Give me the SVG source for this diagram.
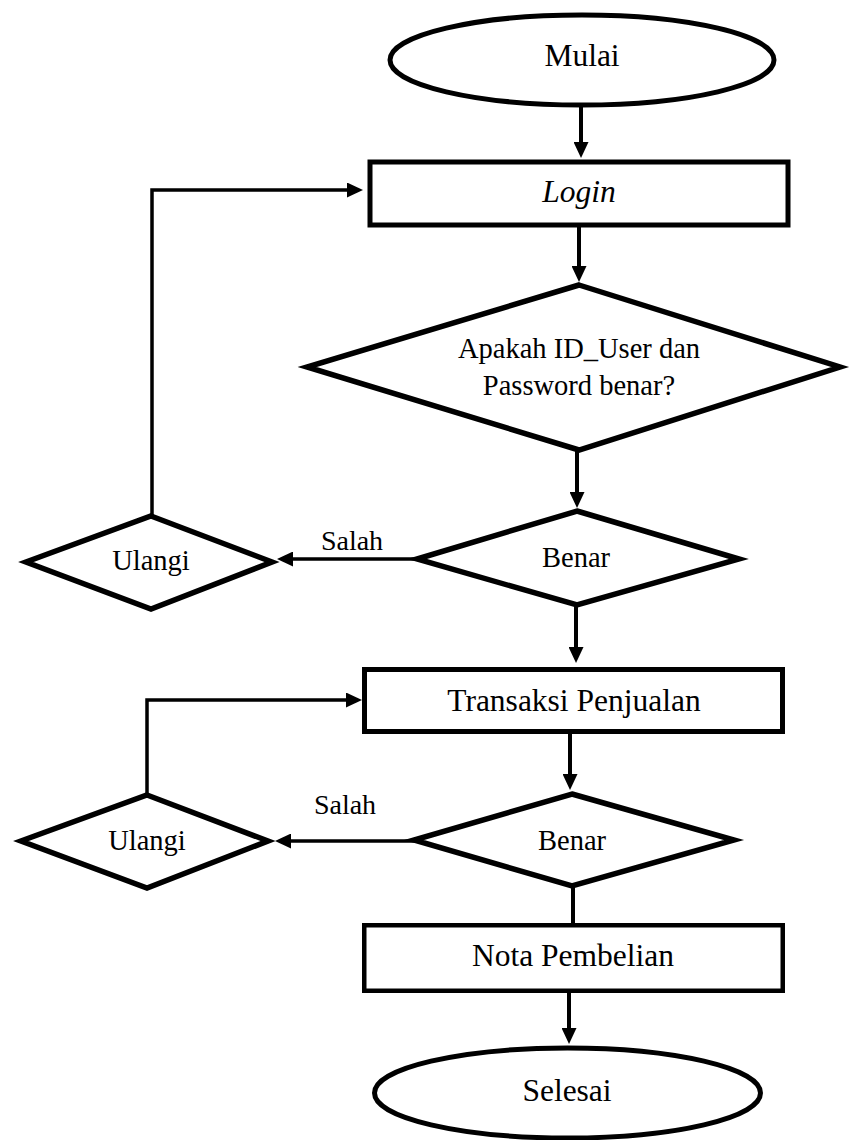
<svg xmlns="http://www.w3.org/2000/svg" width="853" height="1140" viewBox="0 0 853 1140">
<style>
.shape{fill:#fff;stroke:#000;stroke-width:5;stroke-linejoin:miter}
.dia{fill:#fff;stroke:#000;stroke-width:5.5;stroke-linejoin:miter}
.rect{fill:#fff;stroke:#000;stroke-width:4.5}
.conn{fill:none;stroke:#000;stroke-width:4}
.fb{fill:none;stroke:#000;stroke-width:3.5}
.t{font-family:"Liberation Serif","Times New Roman",serif;font-size:31.5px;fill:#000;text-anchor:middle}
.td{font-family:"Liberation Serif","Times New Roman",serif;font-size:28.5px;fill:#000;text-anchor:middle}
.tl{font-family:"Liberation Serif","Times New Roman",serif;font-size:28px;fill:#000;text-anchor:middle}
</style>
<defs>
<marker id="ah" markerUnits="userSpaceOnUse" markerWidth="16" markerHeight="15" refX="2" refY="7.5" orient="auto" viewBox="0 0 16 15">
<path d="M0,0 L16,7.5 L0,15 z" fill="#000"/>
</marker>
</defs>
<g id="connectors">
<line class="conn" x1="581" y1="105" x2="581" y2="144" marker-end="url(#ah)"/>
<line class="conn" x1="579" y1="227" x2="579" y2="268" marker-end="url(#ah)"/>
<line class="conn" x1="577" y1="450" x2="577" y2="494" marker-end="url(#ah)"/>
<line class="fb" x1="417" y1="559" x2="291" y2="559" marker-end="url(#ah)"/>
<polyline class="fb" points="152,516 152,190 349,190" marker-end="url(#ah)"/>
<line class="conn" x1="576" y1="605" x2="576" y2="649" marker-end="url(#ah)"/>
<line class="conn" x1="570" y1="734" x2="570" y2="776" marker-end="url(#ah)"/>
<line class="fb" x1="414" y1="841" x2="289" y2="841" marker-end="url(#ah)"/>
<polyline class="fb" points="147,795 147,700 348,700" marker-end="url(#ah)"/>
<line class="conn" x1="573" y1="886" x2="573" y2="925"/>
<line class="conn" x1="569" y1="993" x2="569" y2="1030" marker-end="url(#ah)"/>
<text class="tl" x="352" y="550">Salah</text>
<text class="tl" x="345" y="814">Salah</text>
</g>
<g id="mulai">
<ellipse class="shape" cx="582" cy="60" rx="192" ry="45"/>
<text class="t" x="582" y="66">Mulai</text>
</g>
<g id="login">
<rect class="shape" x="370" y="162" width="418" height="63"/>
<text class="t" x="579" y="202" font-style="italic">Login</text>
</g>
<g id="cek-login">
<polygon class="dia" points="579,285 840,367 579,450 307,367"/>
<text class="td" x="579" y="358">Apakah ID_User dan</text>
<text class="td" x="579" y="395">Password benar?</text>
</g>
<g id="benar1">
<polygon class="dia" points="577,511 739,559 577,605 417,559"/>
<text class="td" x="576" y="567">Benar</text>
</g>
<g id="ulangi1">
<polygon class="dia" points="151,516 272,562 151,609 26,562"/>
<text class="td" x="151" y="570">Ulangi</text>
</g>
<g id="transaksi">
<rect class="shape" x="364.5" y="669.5" width="418" height="62"/>
<text class="t" x="574" y="711">Transaksi Penjualan</text>
</g>
<g id="benar2">
<polygon class="dia" points="572,794 734,840 572,886 414,840"/>
<text class="td" x="572" y="850">Benar</text>
</g>
<g id="ulangi2">
<polygon class="dia" points="147,795 268,841 147,888 21,841"/>
<text class="td" x="147" y="850">Ulangi</text>
</g>
<g id="nota">
<rect class="rect" x="364.25" y="925.25" width="418.5" height="65.5"/>
<text class="t" x="573" y="966">Nota Pembelian</text>
</g>
<g id="selesai">
<ellipse class="shape" cx="567.5" cy="1093" rx="193" ry="45"/>
<text class="t" x="567" y="1101">Selesai</text>
</g>
</svg>
